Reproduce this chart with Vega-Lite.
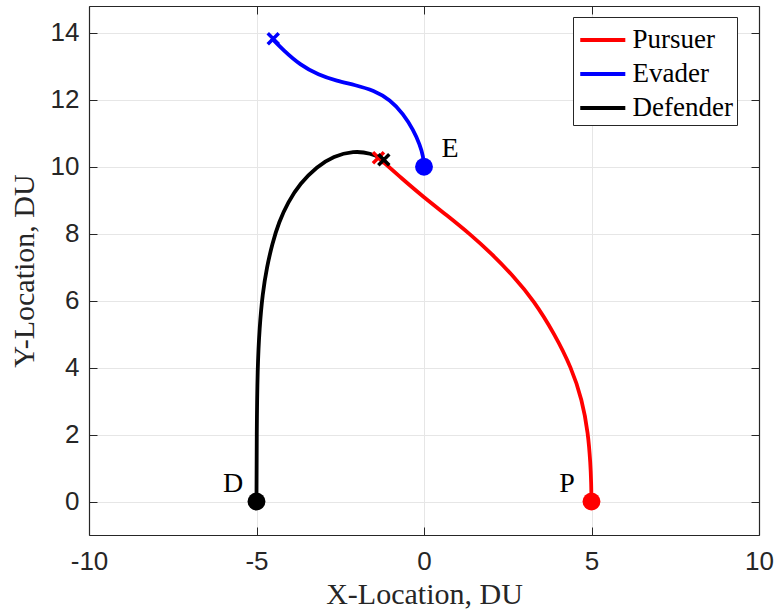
{
  "$schema": "https://vega.github.io/schema/vega-lite/v6.json",
  "width": 670,
  "height": 529,
  "autosize": {"type": "none"},
  "padding": {"left": 89, "top": 6, "right": 18, "bottom": 76},
  "background": "white",
  "config": {
    "view": {"stroke": null},
    "axis": {
      "domainColor": "#262626",
      "domainWidth": 1.2,
      "tickColor": "#262626",
      "tickWidth": 1,
      "tickSize": -8,
      "labelColor": "#262626",
      "labelFont": "Liberation Sans",
      "labelFontSize": 26,
      "titleFont": "Liberation Serif",
      "titleFontSize": 30,
      "titleFontWeight": "normal",
      "titleColor": "#262626",
      "gridColor": "#e6e6e6",
      "gridWidth": 1
    },
    "axisX": {"labelPadding": 21, "labelFlush": false},
    "axisY": {"labelPadding": 18, "labelFlush": false}
  },
  "datasets": {
    "paths": [
      {"s": "Pursuer", "i": 0, "x": 5.0, "y": 0.0},
      {"s": "Pursuer", "i": 1, "x": 4.99, "y": 0.6},
      {"s": "Pursuer", "i": 2, "x": 4.97, "y": 1.1},
      {"s": "Pursuer", "i": 3, "x": 4.9, "y": 2.05},
      {"s": "Pursuer", "i": 4, "x": 4.72, "y": 3.04},
      {"s": "Pursuer", "i": 5, "x": 4.4, "y": 4.0},
      {"s": "Pursuer", "i": 6, "x": 3.9, "y": 5.0},
      {"s": "Pursuer", "i": 7, "x": 3.28, "y": 6.0},
      {"s": "Pursuer", "i": 8, "x": 2.67, "y": 6.73},
      {"s": "Pursuer", "i": 9, "x": 2.02, "y": 7.4},
      {"s": "Pursuer", "i": 10, "x": 1.37, "y": 7.99},
      {"s": "Pursuer", "i": 11, "x": 0.68, "y": 8.55},
      {"s": "Pursuer", "i": 12, "x": -0.02, "y": 9.1},
      {"s": "Pursuer", "i": 13, "x": -0.64, "y": 9.63},
      {"s": "Pursuer", "i": 14, "x": -1.36, "y": 10.27},
      {"s": "Evader", "i": 0, "x": 0.0, "y": 10.0},
      {"s": "Evader", "i": 1, "x": -0.02, "y": 10.3},
      {"s": "Evader", "i": 2, "x": -0.12, "y": 10.65},
      {"s": "Evader", "i": 3, "x": -0.32, "y": 11.1},
      {"s": "Evader", "i": 4, "x": -0.62, "y": 11.58},
      {"s": "Evader", "i": 5, "x": -1.01, "y": 12.0},
      {"s": "Evader", "i": 6, "x": -1.5, "y": 12.28},
      {"s": "Evader", "i": 7, "x": -2.05, "y": 12.44},
      {"s": "Evader", "i": 8, "x": -2.6, "y": 12.56},
      {"s": "Evader", "i": 9, "x": -3.15, "y": 12.74},
      {"s": "Evader", "i": 10, "x": -3.7, "y": 13.04},
      {"s": "Evader", "i": 11, "x": -4.2, "y": 13.48},
      {"s": "Evader", "i": 12, "x": -4.55, "y": 13.84},
      {"s": "Defender", "i": 0, "x": -5.0, "y": 0.0},
      {"s": "Defender", "i": 1, "x": -4.995, "y": 2.0},
      {"s": "Defender", "i": 2, "x": -4.97, "y": 4.0},
      {"s": "Defender", "i": 3, "x": -4.91, "y": 5.2},
      {"s": "Defender", "i": 4, "x": -4.82, "y": 6.2},
      {"s": "Defender", "i": 5, "x": -4.69, "y": 7.0},
      {"s": "Defender", "i": 6, "x": -4.53, "y": 7.7},
      {"s": "Defender", "i": 7, "x": -4.33, "y": 8.35},
      {"s": "Defender", "i": 8, "x": -4.06, "y": 8.94},
      {"s": "Defender", "i": 9, "x": -3.7, "y": 9.5},
      {"s": "Defender", "i": 10, "x": -3.2, "y": 10.0},
      {"s": "Defender", "i": 11, "x": -2.7, "y": 10.32},
      {"s": "Defender", "i": 12, "x": -2.1, "y": 10.47},
      {"s": "Defender", "i": 13, "x": -1.6, "y": 10.41},
      {"s": "Defender", "i": 14, "x": -1.2, "y": 10.21}
    ],
    "ends": [
      {"s": "Pursuer", "k": "start", "x": 5.0, "y": 0.0},
      {"s": "Evader", "k": "start", "x": 0.0, "y": 10.0},
      {"s": "Defender", "k": "start", "x": -5.0, "y": 0.0},
      {"s": "Pursuer", "k": "end", "x": -1.36, "y": 10.27},
      {"s": "Evader", "k": "end", "x": -4.5, "y": 13.82},
      {"s": "Defender", "k": "end", "x": -1.2, "y": 10.21}
    ],
    "labels": [
      {"t": "P", "x": 4.27, "y": 0.27},
      {"t": "D", "x": -5.7, "y": 0.27},
      {"t": "E", "x": 0.78, "y": 10.3}
    ]
  },
  "layer": [
    {
      "data": {"name": "paths"},
      "mark": {"type": "line", "strokeWidth": 3.8, "interpolate": "basis"},
      "encoding": {
        "x": {
          "field": "x", "type": "quantitative",
          "scale": {"domain": [-10, 10], "nice": false, "zero": false},
          "axis": {"orient": "bottom", "values": [-10, -5, 0, 5, 10], "title": "X-Location, DU", "grid": true, "titleBaseline": "alphabetic", "titleY": 68, "labelExpr": "replace(datum.label, '\u2212', '-')"}
        },
        "y": {
          "field": "y", "type": "quantitative",
          "scale": {"domain": [-1, 14.8], "nice": false, "zero": false},
          "axis": {"orient": "left", "values": [0, 2, 4, 6, 8, 10, 12, 14], "title": "Y-Location, DU", "grid": true, "titleAngle": -90, "titleBaseline": "alphabetic", "titleAlign": "center", "titleX": -56, "titleY": 264.5}
        },
        "color": {
          "field": "s", "type": "nominal",
          "scale": {"domain": ["Pursuer", "Evader", "Defender"], "range": ["#ff0000", "#0000ff", "#000000"]},
          "legend": {
            "title": null, "orient": "none", "legendX": 484, "legendY": 11,
            "padding": 4, "fillColor": "white", "strokeColor": "#262626",
            "symbolType": "M-0.94,0L1.75,0", "symbolSize": 1122, "symbolStrokeWidth": 4,
            "labelFont": "Liberation Serif", "labelFontSize": 27, "labelColor": "black",
            "labelOffset": 17.5, "rowPadding": 2,
            "labelExpr": "datum.label + '\u00a0\u00a0\u00a0\u00a0'"
          }
        },
        "order": {"field": "i", "type": "quantitative"}
      }
    },
    {
      "data": {"name": "ends"},
      "mark": {"type": "point", "opacity": 0},
      "encoding": {
        "x": {"field": "x", "type": "quantitative", "axis": {"orient": "top", "labels": false, "grid": false, "title": null, "values": [-10, -5, 0, 5, 10]}},
        "y": {"field": "y", "type": "quantitative", "axis": {"orient": "right", "labels": false, "grid": false, "title": null, "values": [0, 2, 4, 6, 8, 10, 12, 14]}}
      }
    },
    {
      "data": {"name": "ends"},
      "transform": [{"filter": "datum.k === 'start'"}],
      "mark": {"type": "point", "filled": true, "opacity": 1, "size": 320, "shape": "circle"},
      "encoding": {
        "x": {"field": "x", "type": "quantitative", "axis": null},
        "y": {"field": "y", "type": "quantitative", "axis": null},
        "fill": {"field": "s", "type": "nominal", "scale": {"domain": ["Pursuer", "Evader", "Defender"], "range": ["#ff0000", "#0000ff", "#000000"]}, "legend": null}
      }
    },
    {
      "data": {"name": "ends"},
      "transform": [{"filter": "datum.k === 'end'"}],
      "mark": {"type": "point", "filled": false, "opacity": 1, "size": 121, "strokeWidth": 3.5, "shape": "M-1,-1L1,1M-1,1L1,-1"},
      "encoding": {
        "x": {"field": "x", "type": "quantitative", "axis": null},
        "y": {"field": "y", "type": "quantitative", "axis": null},
        "stroke": {"field": "s", "type": "nominal", "scale": {"domain": ["Pursuer", "Evader", "Defender"], "range": ["#ff0000", "#0000ff", "#000000"]}, "legend": null}
      }
    },
    {
      "data": {"name": "labels"},
      "mark": {"type": "text", "font": "Liberation Serif", "fontSize": 28, "baseline": "alphabetic", "align": "center", "color": "black"},
      "encoding": {
        "x": {"field": "x", "type": "quantitative", "axis": null},
        "y": {"field": "y", "type": "quantitative", "axis": null},
        "text": {"field": "t", "type": "nominal"}
      }
    }
  ],
  "resolve": {"axis": {"x": "independent", "y": "independent"}}
}
